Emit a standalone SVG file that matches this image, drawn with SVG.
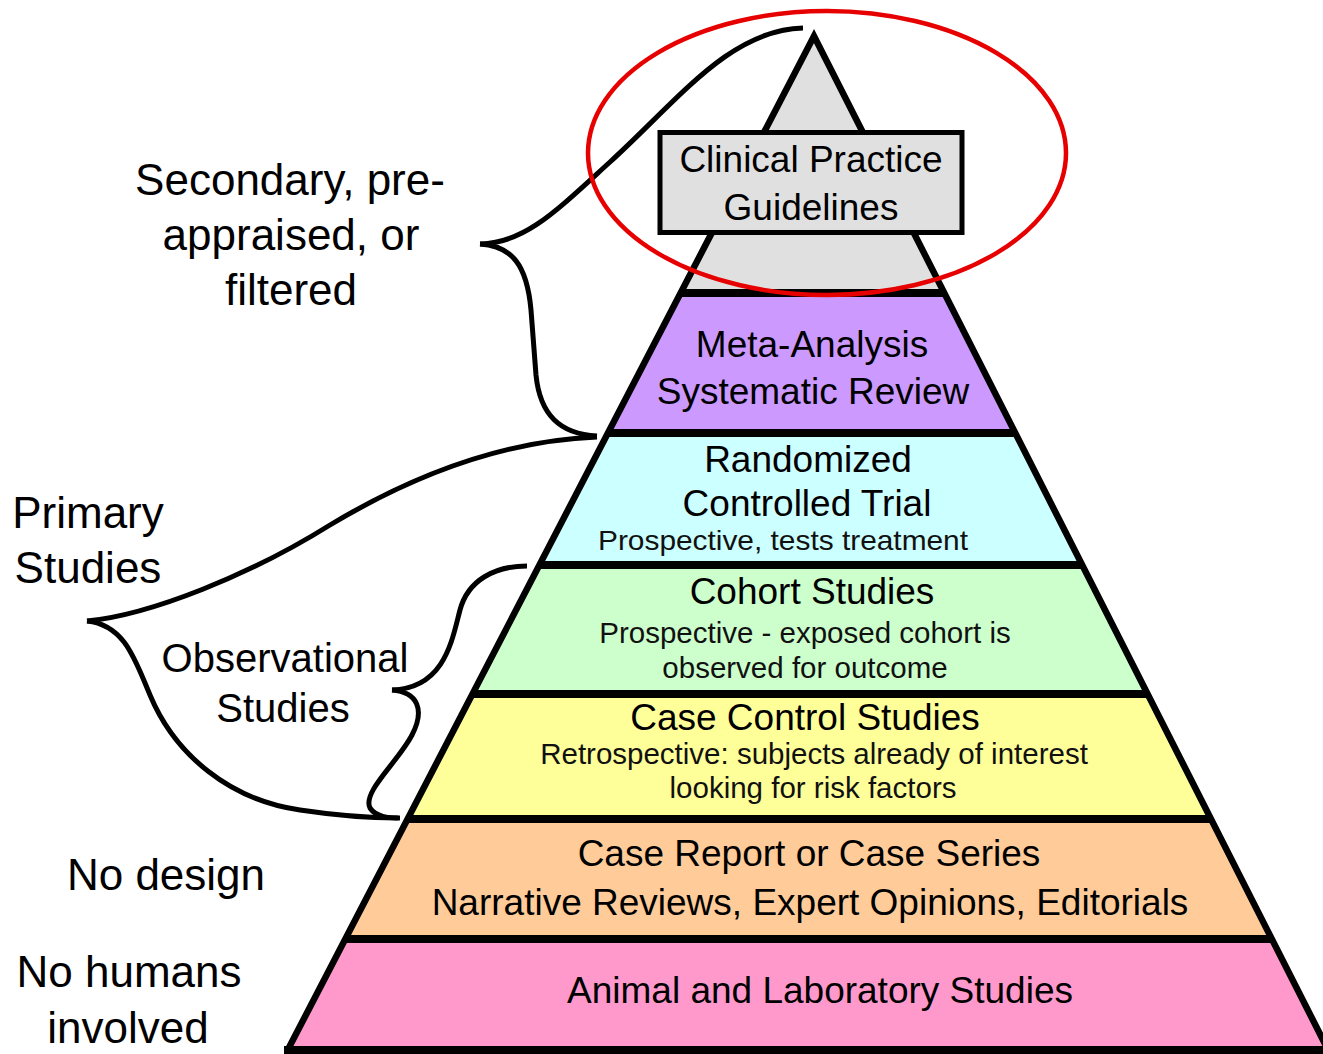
<svg xmlns="http://www.w3.org/2000/svg" width="1323" height="1054" viewBox="0 0 1323 1054">
  <defs>
    <style>
      text { font-family: "Liberation Sans", Arial, sans-serif; fill: #000; text-anchor: middle; }
      .big { font-size: 37px; }
      .small { font-size: 29.5px; fill: #111; }
      .small2 { font-size: 28.5px; fill: #111; }
      .side { font-size: 44px; }
      .obs { font-size: 40px; }
      .band { stroke: #000; stroke-width: 8; fill: none; }
      .brace { stroke: #000; stroke-width: 5; fill: none; stroke-linejoin: round; }
    </style>
  </defs>
  <rect x="0" y="0" width="1323" height="1054" fill="#fff"/>

  <!-- pyramid layers -->
  <g id="layer-meta">
    <polygon points="680.6,293 944.3,293 1015.3,433 608,433" fill="#cc99ff"/>
    <text class="big" x="812" y="357">Meta-Analysis</text>
    <text class="big" x="813" y="404">Systematic Review</text>
  </g>
  <g id="layer-rct">
    <polygon points="608,433 1015.3,433 1082.2,565 539.4,565" fill="#ccffff"/>
    <text class="big" x="808" y="472">Randomized</text>
    <text class="big" x="807" y="516">Controlled Trial</text>
    <text class="small2" x="783" y="550" textLength="370" lengthAdjust="spacingAndGlyphs">Prospective, tests treatment</text>
  </g>
  <g id="layer-cohort">
    <polygon points="539.4,565 1082.2,565 1147.6,694 472.5,694" fill="#ccffcc"/>
    <text class="big" x="812" y="604">Cohort Studies</text>
    <text class="small" x="805" y="643">Prospective - exposed cohort is</text>
    <text class="small" x="805" y="678">observed for outcome</text>
  </g>
  <g id="layer-casecontrol">
    <polygon points="472.5,694 1147.6,694 1211,819 407.6,819" fill="#ffff99"/>
    <text class="big" x="805" y="730">Case Control Studies</text>
    <text class="small" x="814" y="764">Retrospective: subjects already of interest</text>
    <text class="small" x="813" y="798">looking for risk factors</text>
  </g>
  <g id="layer-casereport">
    <polygon points="407.6,819 1211,819 1271.8,939 345.3,939" fill="#ffcc99"/>
    <text class="big" x="809" y="866">Case Report or Case Series</text>
    <text class="big" x="810" y="915">Narrative Reviews, Expert Opinions, Editorials</text>
  </g>
  <g id="layer-animal">
    <polygon points="345.3,939 1271.8,939 1328.1,1050 287.7,1050" fill="#ff99cc"/>
    <text class="big" x="820" y="1003">Animal and Laboratory Studies</text>
  </g>
  <g id="layer-guidelines-fill">
    <polygon points="814,36 944.3,293 680.6,293" fill="#e0e0e0"/>
  </g>

  <!-- bands and outline -->
  <g id="pyramid-outline">
    <line class="band" x1="680.6" y1="293" x2="944.3" y2="293"/>
    <line class="band" x1="608" y1="433" x2="1015.3" y2="433"/>
    <line class="band" x1="539.4" y1="565" x2="1082.2" y2="565"/>
    <line class="band" x1="472.5" y1="694" x2="1147.6" y2="694"/>
    <line class="band" x1="407.6" y1="819" x2="1211" y2="819"/>
    <line class="band" x1="345.3" y1="939" x2="1271.8" y2="939"/>
    <line class="band" x1="284" y1="1050" x2="1330" y2="1050"/>
    <path d="M287.7,1050 L814,36 L1328.1,1050" fill="none" stroke="#000" stroke-width="6.5" stroke-linejoin="miter" stroke-miterlimit="10"/>
  </g>

  <g id="layer-guidelines">
    <rect x="660" y="132.5" width="302" height="100" fill="#e0e0e0" stroke="#000" stroke-width="5"/>
    <text class="big" x="811" y="172">Clinical Practice</text>
    <text class="big" x="811" y="220">Guidelines</text>
  </g>

  <!-- connectors: braces -->
  <g id="connectors">
    <path class="brace" d="M480,244 C525,243 555,212 610,162 C680,98 730,30 803,28"/>
    <path class="brace" d="M480,244 C512,246 527,265 531,310 L536,375 C540,415 560,434 597,436"/>
    <path class="brace" d="M87,621 C150,615 250,575 330,525 C430,465 520,440 597,437"/>
    <path class="brace" d="M87,621 C125,625 135,660 150,695 C175,755 230,800 300,810 C340,816 370,818 398,818"/>
    <path class="brace" d="M527,566 C495,566 468,580 460,610 C452,640 445,688 392,690"/>
    <path class="brace" d="M392,690 C418,692 425,710 412,735 C398,762 362,792 370,808 C376,817 388,818 400,818"/>
  </g>

  <!-- side labels -->
  <g id="label-secondary">
    <text class="side" x="290" y="195">Secondary, pre-</text>
    <text class="side" x="291" y="250">appraised, or</text>
    <text class="side" x="291" y="305">filtered</text>
  </g>
  <g id="label-primary">
    <text class="side" x="88" y="528">Primary</text>
    <text class="side" x="88" y="583">Studies</text>
  </g>
  <g id="label-observational">
    <text class="obs" x="285" y="672">Observational</text>
    <text class="obs" x="283" y="722">Studies</text>
  </g>
  <g id="label-nodesign">
    <text class="side" x="166" y="890">No design</text>
  </g>
  <g id="label-nohumans">
    <text class="side" x="129" y="987">No humans</text>
    <text class="side" x="128" y="1043">involved</text>
  </g>

  <!-- highlight -->
  <g id="highlight">
    <ellipse cx="827" cy="153" rx="239" ry="142" fill="none" stroke="#e60000" stroke-width="4.5"/>
  </g>
</svg>
